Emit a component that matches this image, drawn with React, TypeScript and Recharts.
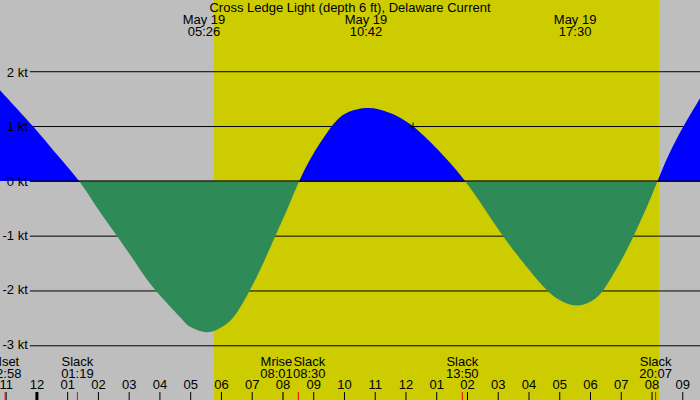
import React from 'react';
import { ComposedChart, Area, XAxis, YAxis, ReferenceArea, ReferenceLine, ReferenceDot } from 'recharts';

// current readings (hours from midnight May 19, knots; + flood, - ebb)
const hours = [-1.2, -0.12, 0.6, 1.37, 1.94, 2.59, 3.19, 3.84, 4.65, 4.98, 5.52, 6.0, 6.44, 6.93, 7.35, 7.76, 8.14, 8.53, 8.99, 9.58, 10.07, 10.77, 11.48, 12.24, 13.16, 13.92, 14.54, 15.14, 15.81, 16.57, 17.1, 17.55, 18.0, 18.42, 18.96, 19.41, 19.83, 20.18, 20.56, 21.02, 21.56];
const knots = [1.67, 1.0, 0.52, 0, -0.48, -1, -1.49, -2, -2.5, -2.68, -2.78, -2.69, -2.47, -2, -1.52, -1, -0.52, 0, 0.5, 1, 1.25, 1.34, 1.25, 1, 0.5, 0, -0.5, -1, -1.5, -2, -2.22, -2.29, -2.22, -2, -1.5, -1, -0.48, 0, 0.5, 1, 1.52];

const hourTicks = [-1, 0, 1, 2, 3, 4, 5, 6, 7, 8, 9, 10, 11, 12, 13, 14, 15, 16, 17, 18, 19, 20, 21];
const hourLabels = ['11', '12', '01', '02', '03', '04', '05', '06', '07', '08', '09', '10', '11', '12', '01', '02', '03', '04', '05', '06', '07', '08', '09'];

const knotTicks = [2, 1, 0, -1, -2, -3];
const knotLabels = ['2 kt', '1 kt', '0 kt', '-1 kt', '-2 kt', '-3 kt'];

const eventHours = [-1.033, 1.317, 8.017, 8.5, 13.833, 20.117];
const eventNames = ['Mset', 'Slack', 'Mrise', 'Slack', 'Slack', 'Slack'];
const eventTimes = ['22:58', '01:19', '08:01', '08:30', '13:50', '20:07'];

const extremeHours = [5.433, 10.7, 17.5];
const extremeDates = ['May 19', 'May 19', 'May 19'];
const extremeTimes = ['05:26', '10:42', '17:30'];

const sunrise = 5.756;
const sunset = 20.23;
const markHour = 12.23;
const markKnots = 1.0;

const flowData = hours.map((h, i) => ({ h, knots: knots[i] }));

const FONT = '"Liberation Sans", Arial, sans-serif';
const GRAY = '#bebebe';
const DAY = '#cccc00';
const FLOOD = '#0000ff';
const EBB = '#2e8b57';

const X_DOMAIN: [number, number] = [-1.2, 21.56];
const Y_DOMAIN: [number, number] = [-4.026, 3.327];
const GRID_START = -0.23;
const MARGIN = { top: -1, right: 0, bottom: -2, left: 0 };

const maxK = Math.max(...knots);
const minK = Math.min(...knots);
const splitAt = maxK / (maxK - minK);

// label nudges so Mrise / Slack 08:30 don't overlap
const eventNudge = [0, 0, -7, 11, 0, 0];

function HourTick(props: any) {
  const { x, index, payload } = props;
  return (
    <g>
      <line x1={x} x2={x} y1={392} y2={400} stroke="#000" strokeWidth={payload.value === 0 ? 3 : 1} />
      <text x={x} y={389} textAnchor="middle" fontSize={13} fontFamily={FONT} fill="#000">
        {hourLabels[index]}
      </text>
    </g>
  );
}

function EventTick(props: any) {
  const { x, index } = props;
  const tx = x + eventNudge[index];
  return (
    <g>
      <line x1={x} x2={x} y1={392} y2={400} stroke="#ff0000" strokeWidth={1} />
      <text x={tx} y={366} textAnchor="middle" fontSize={13} fontFamily={FONT} fill="#000">
        {eventNames[index]}
      </text>
      <text x={tx} y={378} textAnchor="middle" fontSize={13} fontFamily={FONT} fill="#000">
        {eventTimes[index]}
      </text>
    </g>
  );
}

function ExtremeTick(props: any) {
  const { x, index } = props;
  return (
    <g>
      <text x={x} y={24} textAnchor="middle" fontSize={13} fontFamily={FONT} fill="#000">
        {extremeDates[index]}
      </text>
      <text x={x} y={36} textAnchor="middle" fontSize={13} fontFamily={FONT} fill="#000">
        {extremeTimes[index]}
      </text>
    </g>
  );
}

function Cross(props: any) {
  const { cx, cy } = props;
  return (
    <g stroke="#000" strokeWidth={1}>
      <line x1={cx - 4} x2={cx + 5} y1={cy} y2={cy} />
      <line x1={cx} x2={cx} y1={cy - 4} y2={cy + 5} />
    </g>
  );
}

// back layer: daylight band and grid lines (under the current fill)
function BackLayer() {
  return (
    <ComposedChart width={700} height={400} data={flowData} margin={MARGIN}>
      <XAxis xAxisId="hours" dataKey="h" type="number" domain={X_DOMAIN} allowDataOverflow hide />
      <YAxis hide type="number" domain={Y_DOMAIN} allowDataOverflow />
      <ReferenceArea xAxisId="hours" x1={sunrise} x2={sunset} fill={DAY} fillOpacity={1} stroke="none" />
      {knotTicks.map((k) => (
        <ReferenceLine
          key={k}
          xAxisId="hours"
          segment={[{ x: GRID_START, y: k }, { x: X_DOMAIN[1], y: k }]}
          stroke="#000"
          strokeWidth={1}
        />
      ))}
    </ComposedChart>
  );
}

export default function App() {
  return (
    <div style={{ position: 'absolute', left: 0, top: 0, width: 700, height: 400, background: GRAY, fontFamily: FONT }}>
      <div style={{ position: 'absolute', left: 0, top: 0 }}>
        <BackLayer />
      </div>
      <div style={{ position: 'absolute', left: 0, top: 0 }}>
        <ComposedChart width={700} height={400} data={flowData} margin={MARGIN}>
          <defs>
            <linearGradient id="flow" x1="0" y1="0" x2="0" y2="1">
              <stop offset={splitAt} stopColor={FLOOD} />
              <stop offset={splitAt} stopColor={EBB} />
            </linearGradient>
          </defs>
          <XAxis
            xAxisId="hours"
            dataKey="h"
            type="number"
            domain={X_DOMAIN}
            allowDataOverflow
            ticks={hourTicks}
            interval={0}
            height={1}
            axisLine={false}
            tickLine={false}
            tick={<HourTick />}
          />
          <XAxis
            xAxisId="events"
            dataKey="h"
            type="number"
            domain={X_DOMAIN}
            allowDataOverflow
            ticks={eventHours}
            interval={0}
            height={1}
            axisLine={false}
            tickLine={false}
            tick={<EventTick />}
          />
          <XAxis
            xAxisId="extremes"
            orientation="top"
            dataKey="h"
            type="number"
            domain={X_DOMAIN}
            allowDataOverflow
            ticks={extremeHours}
            interval={0}
            height={1}
            axisLine={false}
            tickLine={false}
            tick={<ExtremeTick />}
          />
          <YAxis hide type="number" domain={Y_DOMAIN} allowDataOverflow />

          <Area
            xAxisId="hours"
            type="natural"
            dataKey="knots"
            baseValue={0}
            fill="url(#flow)"
            fillOpacity={1}
            stroke="none"
            isAnimationActive={false}
            dot={false}
            activeDot={false}
          />

          {knotTicks.map((k, i) => (
            <ReferenceLine
              key={k}
              xAxisId="hours"
              segment={[{ x: GRID_START, y: k }, { x: X_DOMAIN[1], y: k }]}
              stroke="#000"
              strokeWidth={1}
              strokeOpacity={k === 0 ? 1 : 0}
              label={{ value: knotLabels[i], position: 'left', offset: 2, fill: '#000', fontSize: 13, fontFamily: FONT }}
            />
          ))}

          <ReferenceDot xAxisId="hours" x={markHour} y={markKnots} r={4} shape={<Cross />} />

          <text x={350} y={12} textAnchor="middle" fontSize={13} fontFamily={FONT} fill="#000">
            Cross Ledge Light (depth 6 ft), Delaware Current
          </text>
        </ComposedChart>
      </div>
    </div>
  );
}
